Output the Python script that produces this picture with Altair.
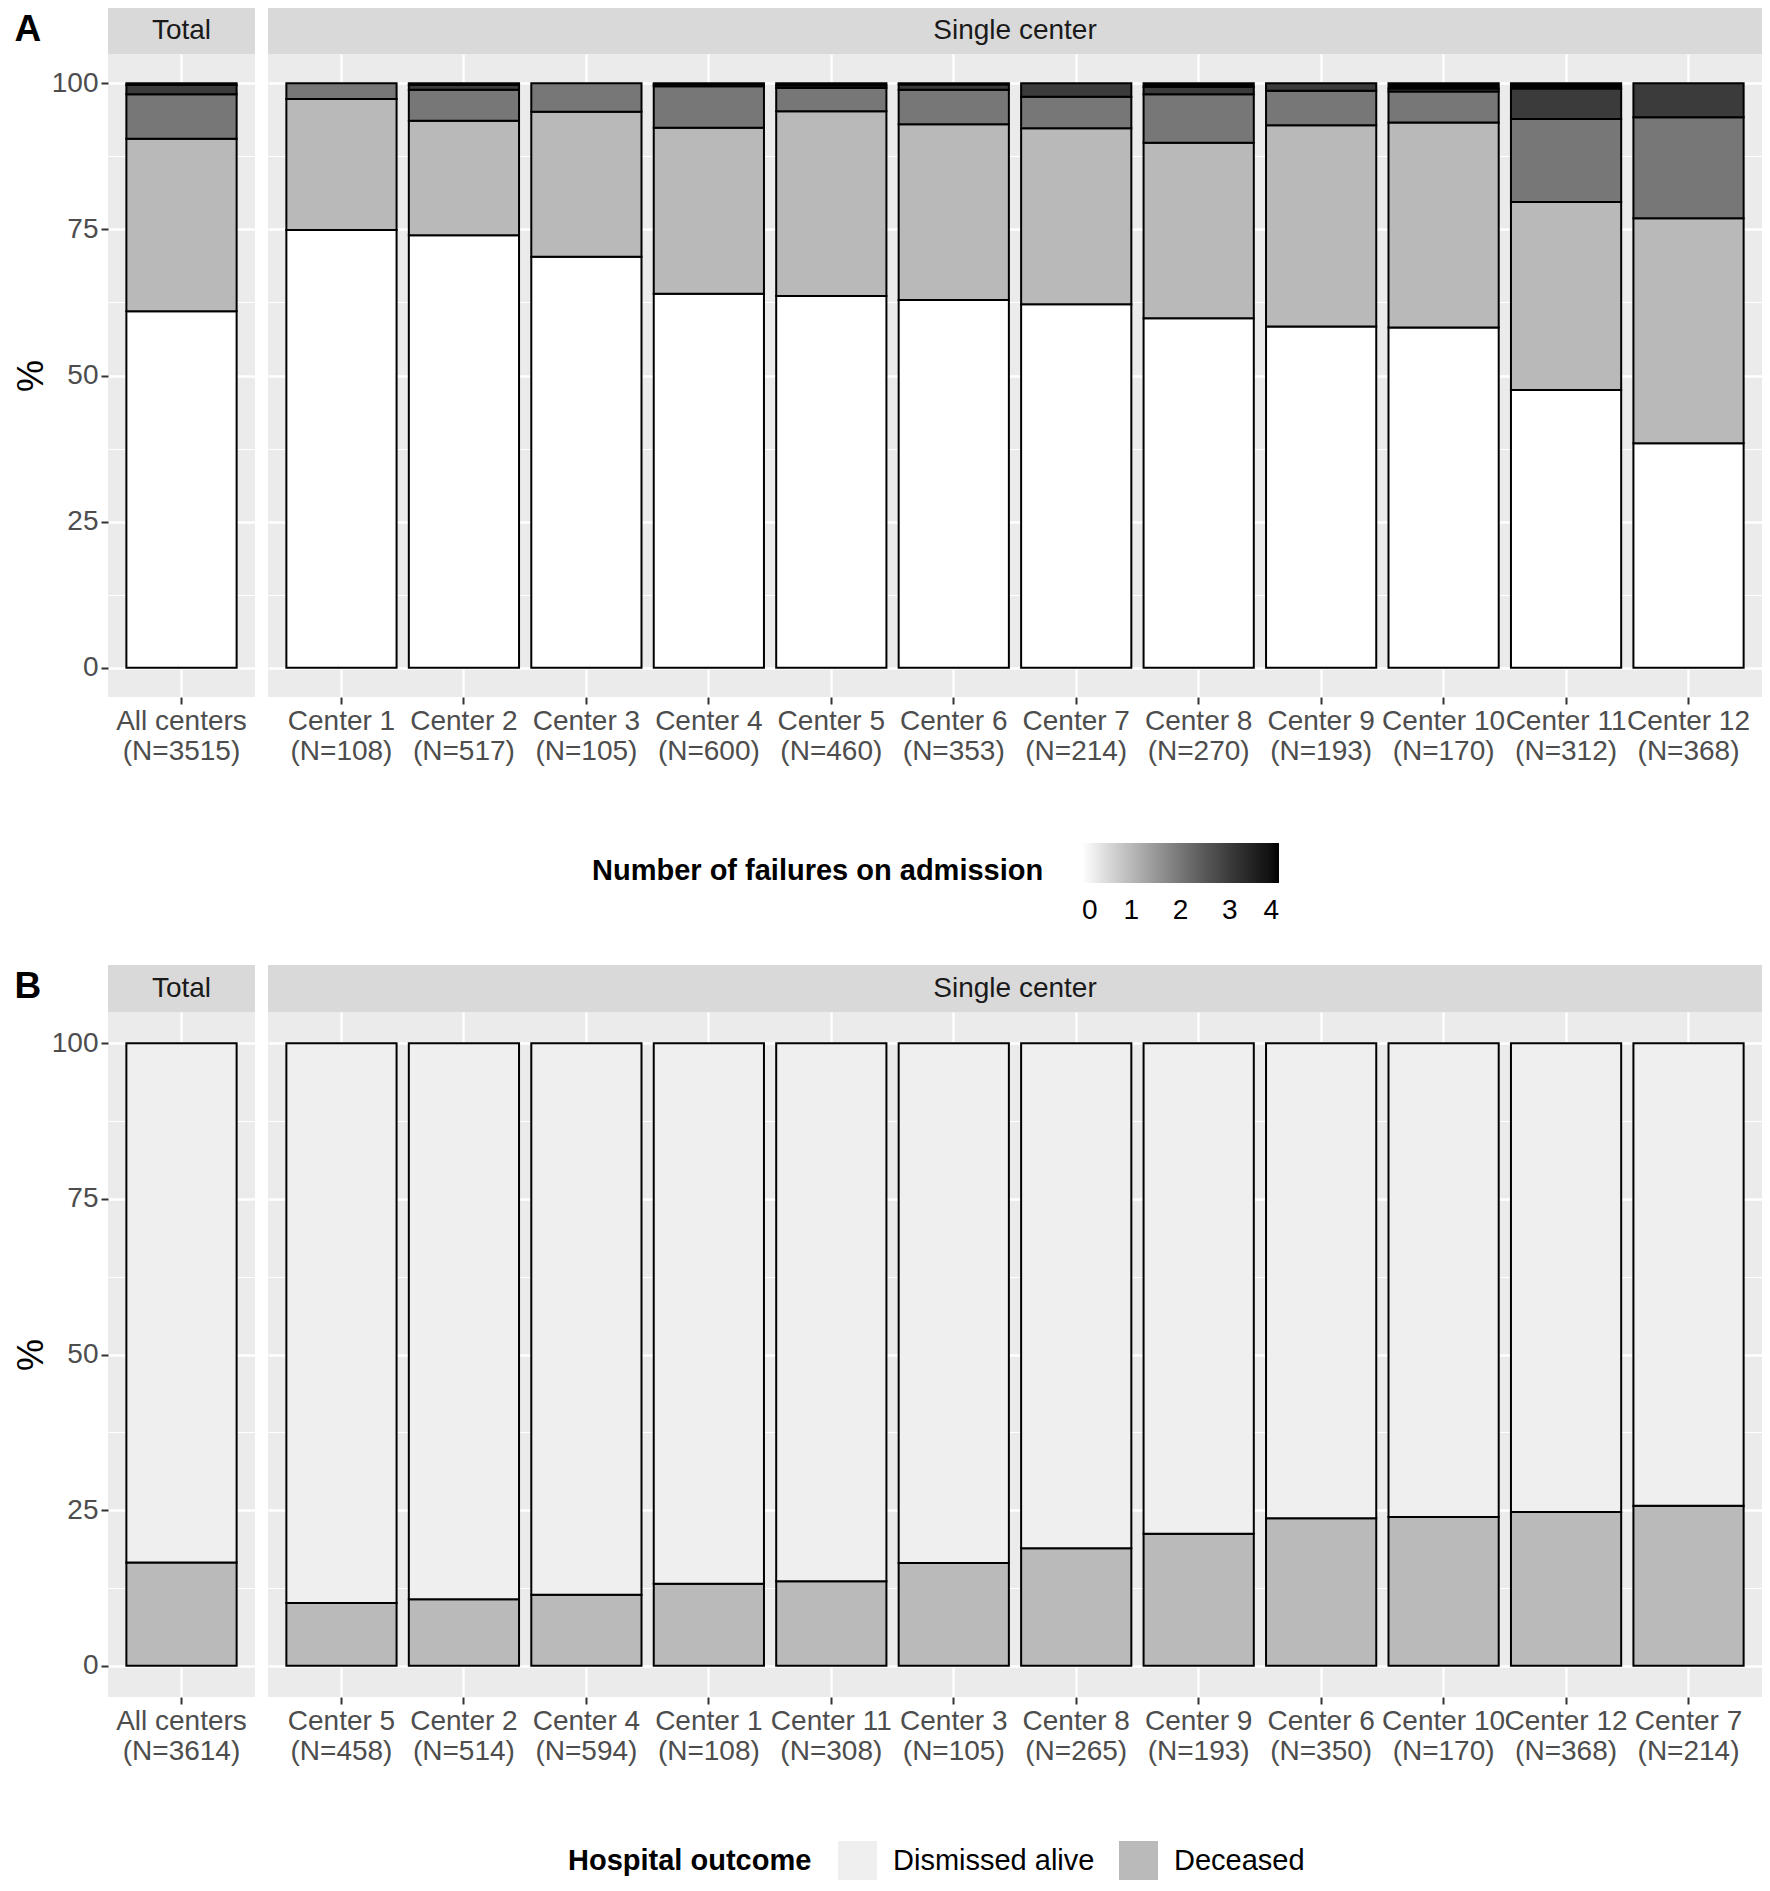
import altair as alt
import pandas as pd

FONT = "Liberation Sans"

# ---------------- data: panel A (number of failures on admission, % per center) ----------------
a_failure_levels = [0, 1, 2, 3, 4]
a_total_name = "All centers"
a_total_n = 3515
a_total_pct = [61.0, 29.5, 7.6, 1.6, 0.3]

a_centers = ["Center 1", "Center 2", "Center 3", "Center 4", "Center 5", "Center 6",
             "Center 7", "Center 8", "Center 9", "Center 10", "Center 11", "Center 12"]
a_n = [108, 517, 105, 600, 460, 353, 214, 270, 193, 170, 312, 368]
a_pct_f0 = [74.9, 74.0, 70.3, 64.0, 63.6, 62.9, 62.2, 59.8, 58.4, 58.2, 47.5, 38.4]
a_pct_f1 = [22.4, 19.6, 24.8, 28.4, 31.6, 30.1, 30.1, 30.0, 34.4, 35.1, 32.2, 38.5]
a_pct_f2 = [2.7, 5.3, 4.9, 7.1, 4.0, 5.9, 5.4, 8.3, 5.9, 5.3, 14.2, 17.3]
a_pct_f3 = [0.0, 0.8, 0.0, 0.3, 0.4, 0.9, 2.3, 1.3, 1.3, 0.5, 5.2, 5.8]
a_pct_f4 = [0.0, 0.3, 0.0, 0.2, 0.4, 0.2, 0.0, 0.6, 0.0, 0.9, 0.9, 0.0]

# ---------------- data: panel B (hospital outcome, % per center) ----------------
b_outcomes = ["Dismissed alive", "Deceased"]
b_total_name = "All centers"
b_total_n = 3614
b_total_alive = 83.4
b_total_deceased = 16.6

b_centers = ["Center 5", "Center 2", "Center 4", "Center 1", "Center 11", "Center 3",
             "Center 8", "Center 9", "Center 6", "Center 10", "Center 12", "Center 7"]
b_n = [458, 514, 594, 108, 308, 105, 265, 193, 350, 170, 368, 214]
b_deceased = [10.1, 10.7, 11.4, 13.2, 13.6, 16.5, 18.9, 21.2, 23.7, 23.9, 24.7, 25.7]
b_alive = [89.9, 89.3, 88.6, 86.8, 86.4, 83.5, 81.1, 78.8, 76.3, 76.1, 75.3, 74.3]


def make_label(name, n):
    return f"{name}\n(N={n})"


# ---------------- tables ----------------
a_total_labels = [make_label(a_total_name, a_total_n)]
a_total_rows = [{"label": a_total_labels[0], "failures": f, "pct": p}
                for f, p in zip(a_failure_levels, a_total_pct) if p > 0]
a_single_labels = [make_label(c, n) for c, n in zip(a_centers, a_n)]
a_series = [a_pct_f0, a_pct_f1, a_pct_f2, a_pct_f3, a_pct_f4]
a_single_rows = []
for i, lab in enumerate(a_single_labels):
    for f, s in zip(a_failure_levels, a_series):
        if s[i] > 0:
            a_single_rows.append({"label": lab, "failures": f, "pct": s[i]})

b_total_labels = [make_label(b_total_name, b_total_n)]
b_total_rows = [
    {"label": b_total_labels[0], "outcome": "Deceased", "rank": 0, "pct": b_total_deceased},
    {"label": b_total_labels[0], "outcome": "Dismissed alive", "rank": 1, "pct": b_total_alive},
]
b_single_labels = [make_label(c, n) for c, n in zip(b_centers, b_n)]
b_single_rows = []
for lab, d, a in zip(b_single_labels, b_deceased, b_alive):
    b_single_rows.append({"label": lab, "outcome": "Deceased", "rank": 0, "pct": d})
    b_single_rows.append({"label": lab, "outcome": "Dismissed alive", "rank": 1, "pct": a})

# ---------------- styling helpers ----------------
Y_VALUES = [0, 12.5, 25, 37.5, 50, 62.5, 75, 87.5, 100]
MAJOR = "datum.value % 25 === 0"
GRID_W = {"condition": {"test": MAJOR, "value": 2.4}, "value": 1.2}

W_TOTAL, W_SINGLE = 147, 1494
H_A, H_B = 643, 685


def x_axis():
    return alt.Axis(title=None, labelExpr="split(datum.label, '\\n')", labelFontSize=28,
                    labelColor="#4D4D4D", labelLineHeight=30, labelPadding=3, labelAngle=0,
                    labelOverlap=False, tickSize=7, tickColor="#333333", tickWidth=2,
                    domain=False, grid=True, gridColor="#FFFFFF", gridWidth=2.4)


def y_axis(show):
    if show:
        return alt.Axis(values=Y_VALUES, title="%", titleFontSize=36, titleColor="#000000",
                        titleFontWeight="normal", titlePadding=1,
                        labelExpr=f"{MAJOR} ? datum.label : ''", labelFontSize=28,
                        labelColor="#4D4D4D", labelPadding=3, tickSize=7, tickColor="#333333",
                        tickWidth=2, tickOpacity={"condition": {"test": MAJOR, "value": 1}, "value": 0},
                        domain=False, grid=True, gridColor="#FFFFFF", gridWidth=GRID_W)
    return alt.Axis(values=Y_VALUES, title=None, labels=False, ticks=False, domain=False,
                    grid=True, gridColor="#FFFFFF", gridWidth=GRID_W)


def bar_plot(rows, labels, width, height, color, order, show_y):
    return alt.Chart(pd.DataFrame(rows)).mark_bar(stroke="black", strokeWidth=2).encode(
        x=alt.X("label:N", sort=labels,
                scale=alt.Scale(paddingInner=0.1, paddingOuter=0.15), axis=x_axis()),
        y=alt.Y("pct:Q", stack="zero",
                scale=alt.Scale(domain=[-5, 105], nice=False, zero=False), axis=y_axis(show_y)),
        color=color,
        order=order,
    ).properties(width=width, height=height,
                 view=alt.ViewBackground(fill="#EBEBEB", stroke=None))


def strip(text, width, height, letter=None):
    enc = {"text": "strip:N"}
    if letter:
        # panel letter drawn as the strip's (hidden) y-axis title, placed to the far left
        enc["y"] = alt.Y("strip:N", axis=alt.Axis(
            title=letter, titleAngle=0, titleFontSize=37, titleFontWeight="bold",
            titleColor="#000000", titleAlign="left", titleBaseline="alphabetic",
            titleX=-94, titleY=32, labels=False, ticks=False, domain=False, grid=False))
    return alt.Chart(pd.DataFrame({"strip": [text]})).mark_text(
        fontSize=28, color="#1A1A1A").encode(**enc).properties(
        width=width, height=height, view=alt.ViewBackground(fill="#D9D9D9", stroke=None))


# ---------------- panel A ----------------
a_color_scale = alt.Scale(domain=[0, 4], range=["#FFFFFF", "#000000"], interpolate="lab")
a_order = alt.Order("failures:Q", sort="ascending")
a_legend = alt.Legend(title="Number of failures on admission", orient="none", legendX=324,
                      legendY=789, direction="horizontal", titleOrient="left",
                      titleFontSize=29, titleFontWeight="bold", titleColor="#000000",
                      titlePadding=38, titleAnchor="middle", titleBaseline="line-top",
                      titleLineHeight=18, titleLimit=1000, gradientLength=197,
                      gradientThickness=40, gradientStrokeWidth=0, labelFontSize=28,
                      labelColor="#000000", labelAlign="center", labelOffset=14,
                      labelLimit=1000, values=[0, 1, 2, 3, 4])

plot_a_total = bar_plot(a_total_rows, a_total_labels, W_TOTAL, H_A,
                        alt.Color("failures:Q", scale=a_color_scale, legend=None), a_order, True)
plot_a_single = bar_plot(a_single_rows, a_single_labels, W_SINGLE, H_A,
                         alt.Color("failures:Q", scale=a_color_scale, legend=a_legend), a_order, False)

col_a_total = alt.vconcat(strip("Total", W_TOTAL, 46, "A"), plot_a_total, spacing=0)
col_a_single = alt.vconcat(strip("Single center", W_SINGLE, 46), plot_a_single,
                           spacing=0).resolve_scale(color="independent")
row_a = alt.hconcat(col_a_total, col_a_single, spacing=13).resolve_scale(color="independent")

# ---------------- panel B ----------------
b_color_scale = alt.Scale(domain=b_outcomes, range=["#EFEFEF", "#BABABA"])
b_order = alt.Order("rank:Q", sort="ascending")
b_legend = alt.Legend(title="Hospital outcome", orient="none", legendX=300, legendY=829,
                      direction="horizontal", titleOrient="left", titleFontSize=29,
                      titleFontWeight="bold", titleColor="#000000", titlePadding=26,
                      titleAnchor="middle", titleBaseline="middle", titleLimit=1000,
                      symbolType="square", symbolSize=1521, symbolStrokeWidth=0,
                      symbolStrokeColor="transparent", symbolOpacity=1,
                      labelFontSize=29, labelColor="#000000", labelOffset=16,
                      labelLimit=1000, columnPadding=24)

plot_b_total = bar_plot(b_total_rows, b_total_labels, W_TOTAL, H_B,
                        alt.Color("outcome:N", scale=b_color_scale, legend=None), b_order, True)
plot_b_single = bar_plot(b_single_rows, b_single_labels, W_SINGLE, H_B,
                         alt.Color("outcome:N", scale=b_color_scale, legend=b_legend), b_order, False)

col_b_total = alt.vconcat(strip("Total", W_TOTAL, 47, "B"), plot_b_total, spacing=0)
col_b_single = alt.vconcat(strip("Single center", W_SINGLE, 47), plot_b_single,
                           spacing=0).resolve_scale(color="independent")
row_b = alt.hconcat(col_b_total, col_b_single, spacing=13).resolve_scale(color="independent")

chart = alt.vconcat(row_a, row_b, spacing=40).resolve_scale(color="independent").properties(
    padding={"left": 5, "top": 0, "right": 0, "bottom": 0}, background="#FFFFFF"
).configure(font=FONT).configure_view(stroke=None)

chart.save("out.html", embed_options={"renderer": "svg", "actions": False})
